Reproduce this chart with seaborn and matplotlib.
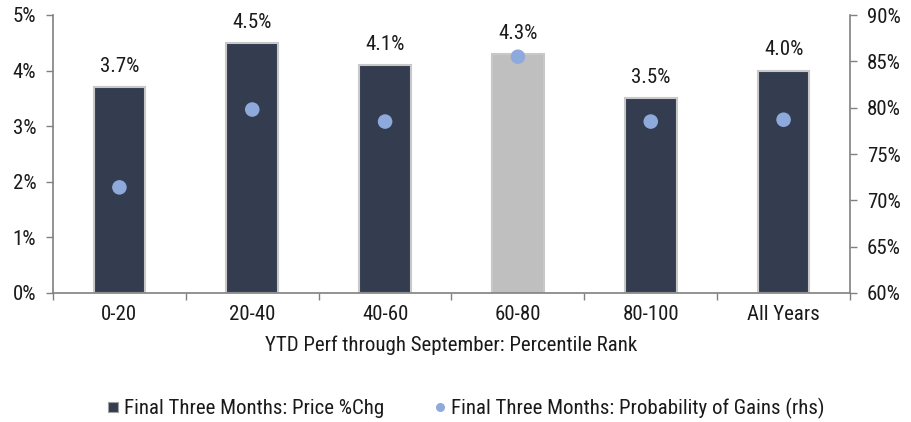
import matplotlib
matplotlib.use("Agg")
import matplotlib.pyplot as plt
from matplotlib.lines import Line2D
from matplotlib.ticker import FuncFormatter, FixedLocator
from matplotlib import font_manager
import seaborn as sns
import pandas as pd
import numpy as np

categories = ["0-20", "20-40", "40-60", "60-80", "80-100", "All Years"]
price_chg = [3.7, 4.5, 4.1, 4.3, 3.5, 4.0]
prob_gains = [71.4, 79.8, 78.5, 85.5, 78.5, 78.7]
bar_colors = ["#333D4F", "#333D4F", "#333D4F", "#BFBFBF", "#333D4F", "#333D4F"]

sns.set_theme(style="white")
names = {f.name for f in font_manager.fontManager.ttflist}
family = [n for n in ["Liberation Sans Narrow", "Roboto Condensed", "DejaVu Sans Condensed"] if n in names]
plt.rcParams["font.family"] = family + ["DejaVu Sans"]
axis_grey = "#808080"
text_color = "#1a1a1a"
dot_color = "#8EA9DB"
fs = 15

df = pd.DataFrame({"cat": categories, "chg": price_chg, "prob": prob_gains})
df["pos"] = np.arange(len(df))

fig = plt.figure(figsize=(9.11, 4.22), dpi=100)
ax = fig.add_axes([53 / 911, 1 - 293 / 422, (850 - 53) / 911, (293 - 15) / 422])

sns.barplot(data=df, x="cat", y="chg", hue="cat", palette=bar_colors,
            legend=False, width=0.39, ax=ax, saturation=1,
            edgecolor="#C8C8C8", linewidth=1.5)

for p, v in zip(ax.patches, price_chg):
    ax.text(p.get_x() + p.get_width() / 2, v + 0.2, f"{v:.1f}%",
            ha="center", va="bottom", fontsize=fs, color=text_color)

ax.set_ylim(0, 5)
ax.set_xlim(-0.5, len(categories) - 0.5)
ax.set_yticks(np.arange(0, 5.01, 1))
ax.yaxis.set_major_formatter(FuncFormatter(lambda v, _: f"{v:.0f}%"))
ax.set_xlabel("YTD Perf through September: Percentile Rank", fontsize=fs,
              color=text_color, labelpad=8)
ax.set_ylabel("")
ax.tick_params(axis="x", which="major", length=0, pad=9, labelsize=fs, labelcolor=text_color)
ax.xaxis.set_minor_locator(FixedLocator(np.arange(-0.5, len(categories), 1.0)))
ax.tick_params(axis="x", which="minor", length=5, width=1, color=axis_grey, bottom=True)
ax.tick_params(axis="y", length=5, width=1, color=axis_grey, left=True, labelsize=fs,
               labelcolor=text_color, pad=7)

for s in ["top", "right"]:
    ax.spines[s].set_visible(False)
for s in ["left", "bottom"]:
    ax.spines[s].set_color(axis_grey)
    ax.spines[s].set_linewidth(1.2)

ax2 = ax.twinx()
sns.scatterplot(data=df, x="pos", y="prob", ax=ax2, color=dot_color, s=110,
                edgecolor="none", legend=False, zorder=5)
ax2.set_ylim(60, 90)
ax2.set_yticks(np.arange(60, 90.1, 5))
ax2.yaxis.set_major_formatter(FuncFormatter(lambda v, _: f"{v:.0f}%"))
ax2.set_ylabel("")
ax2.set_xlabel("")
ax2.tick_params(axis="y", length=5, width=1, color=axis_grey, right=True, labelsize=fs,
                labelcolor=text_color, pad=7)
for s in ["top", "left", "bottom"]:
    ax2.spines[s].set_visible(False)
ax2.spines["right"].set_color(axis_grey)
ax2.spines["right"].set_linewidth(1.2)
ax2.set_xlim(-0.5, len(categories) - 0.5)

handles = [
    Line2D([0], [0], marker="s", linestyle="none", markersize=7,
           markerfacecolor="#333D4F", markeredgecolor="#A0A0A0", markeredgewidth=0.8,
           label="Final Three Months: Price %Chg"),
    Line2D([0], [0], marker="o", linestyle="none", markersize=6.5,
           markerfacecolor=dot_color, markeredgecolor="none",
           label="Final Three Months: Probability of Gains (rhs)"),
]
fig.legend(handles=handles, loc="center", bbox_to_anchor=(466 / 911, 1 - 408 / 422),
           ncol=2, frameon=False, fontsize=fs, handlelength=0.5,
           handletextpad=0.3, columnspacing=2.4, labelcolor=text_color)

fig.savefig("out.png", dpi=100)
